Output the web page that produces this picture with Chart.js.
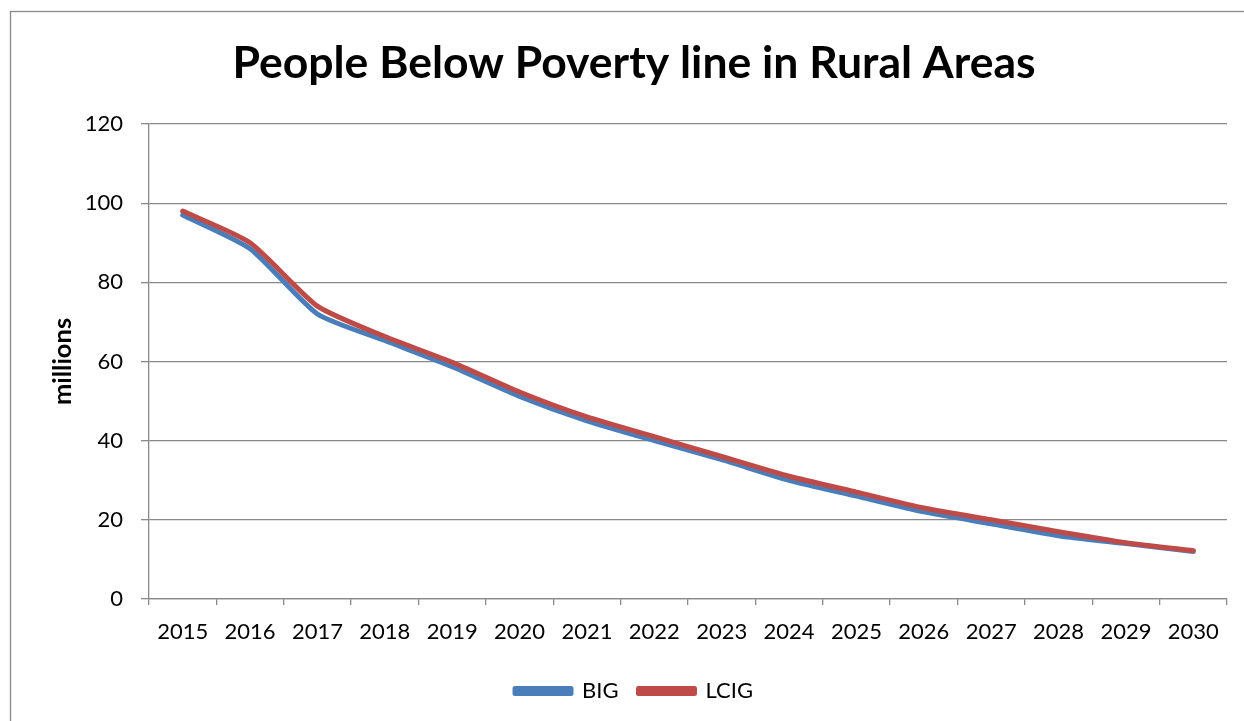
<!DOCTYPE html>
<html>
<head>
<meta charset="utf-8">
<title>People Below Poverty line in Rural Areas</title>
<script src="https://cdn.jsdelivr.net/npm/chart.js@4.4.1/dist/chart.umd.min.js"></script>
<style>
  html, body { margin: 0; padding: 0; background: #fff; overflow: hidden; }
  /* the chart frame runs past the right edge of the window, as in the original */
  #wrap { width: 1290px; height: 721px; position: relative; }
</style>
</head>
<body>
<div id="wrap"><canvas id="chart"></canvas></div>
<script>
// data (millions)
const YEARS = ['2015', '2016', '2017', '2018', '2019', '2020', '2021', '2022',
               '2023', '2024', '2025', '2026', '2027', '2028', '2029', '2030'];
const BIG  = [97, 88.5, 72, 65.3, 58.7, 51.2, 45, 40, 35.2, 30, 26, 22, 19, 16, 14, 12];
const LCIG = [98, 90, 74, 66.3, 59.8, 52.3, 46, 41, 36, 31, 27, 23, 20, 17, 14.2, 12.2];
const Y_TICKS = [0, 20, 40, 60, 80, 100, 120];

const FONT = "Lato, 'Open Sans', sans-serif";
const AXIS_GREY = '#898989';

// outer chart frame, like the spreadsheet chart border
const frame = {
  id: 'frame',
  beforeDraw(chart) {
    const c = chart.ctx;
    c.save();
    c.fillStyle = '#fff';
    c.fillRect(0, 0, chart.width, chart.height);
    c.strokeStyle = AXIS_GREY;
    c.lineWidth = 1.3;
    c.strokeRect(10.5, 11.5, chart.width + 20, chart.height + 20);
    c.restore();
  }
};

Chart.defaults.font.family = FONT;
Chart.defaults.color = '#000';

new Chart(document.getElementById('chart'), {
  type: 'line',
  data: {
    labels: YEARS,
    datasets: [
      { label: 'BIG', data: BIG, borderColor: '#4a7ebb', backgroundColor: '#4a7ebb',
        borderWidth: 5, pointRadius: 0, tension: 0.2, order: 2,
        borderCapStyle: 'round', borderJoinStyle: 'round' },
      { label: 'LCIG', data: LCIG, borderColor: '#be4b48', backgroundColor: '#be4b48',
        borderWidth: 5, pointRadius: 0, tension: 0.2, order: 1,
        borderCapStyle: 'round', borderJoinStyle: 'round' }
    ]
  },
  options: {
    responsive: true,
    maintainAspectRatio: false,
    animation: false,
    layout: { padding: { left: 10, right: 32, top: 11, bottom: 9 } },
    plugins: {
      title: {
        display: true,
        text: 'People Below Poverty line in Rural Areas',
        color: '#000',
        font: { size: 44.5, weight: 'bold' },
        padding: { top: 26, bottom: 33.6 }
      },
      legend: {
        position: 'bottom',
        labels: {
          boxWidth: 56, boxHeight: 5, padding: 20,
          font: { size: 22 }, color: '#000',
          sort: (a, b) => a.datasetIndex - b.datasetIndex
        }
      },
      tooltip: { enabled: false }
    },
    scales: {
      x: {
        offset: true,
        grid: { drawOnChartArea: false, offset: true, tickLength: 6, color: AXIS_GREY, lineWidth: 1.3 },
        border: { color: AXIS_GREY, width: 1.3 },
        ticks: { font: { size: 22 }, padding: 14, maxRotation: 0, autoSkip: false },
        afterFit(s) { s.height = 61; }
      },
      y: {
        min: 0, max: 120,
        afterBuildTicks(s) { s.ticks = Y_TICKS.map(v => ({ value: v })); },
        grid: { color: AXIS_GREY, lineWidth: 1.3, tickLength: 8 },
        border: { color: AXIS_GREY, width: 1.3 },
        ticks: { font: { size: 22 }, padding: 18 },
        title: { display: true, text: 'millions', font: { size: 25.5, weight: 'bold' },
                 padding: { top: 37, bottom: 0 } },
        afterFit(s) { s.width = 139; }
      },
      // empty right-hand spacer so the plot stops where the original's does
      yRight: {
        position: 'right',
        grid: { display: false },
        border: { display: false },
        ticks: { display: false },
        afterFit(s) { s.width = 31; }
      }
    }
  },
  plugins: [frame]
});
</script>
</body>
</html>
